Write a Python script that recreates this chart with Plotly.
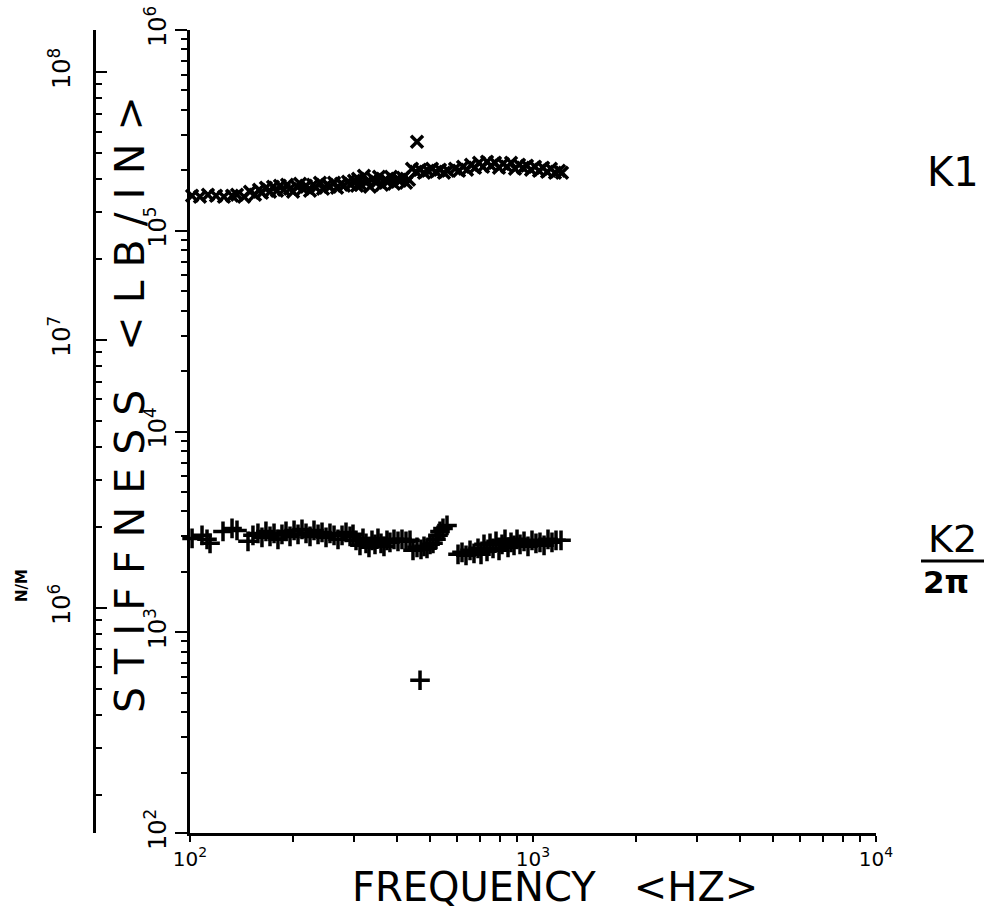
import plotly.graph_objects as go

# ---------------- data ----------------
k1_freq = [101.4, 106.9, 112.8, 119.1, 125.6, 132.6, 137.1,
           143.7, 149.6, 154.7, 158.9, 162.1, 166.5, 171.1, 174.6, 179.3, 182.9,
           187.9, 191.8, 195.7, 199.7, 205.1, 209.3, 213.5, 217.9, 223.8, 228.4,
           233.0, 239.3, 244.2, 250.9, 255.9, 263.0, 268.3, 275.6, 281.2, 288.8,
           294.7, 300.7, 306.8,
           308.9, 315.1, 321.5, 328.1, 334.8, 341.6, 348.5, 355.6, 362.8, 370.2,
           377.7, 385.4, 393.3, 401.3, 409.5, 417.8, 426.3, 435.0,
           443.8, 456.0, 468.4, 481.1, 494.2, 507.6, 521.4, 535.6, 550.2, 565.2,
           459.0,
           592.4, 608.6, 625.1, 642.1, 659.6, 677.5, 696.0, 714.9, 734.4, 754.4,
           774.9, 796.0, 817.7, 839.9, 862.8, 886.3, 910.4, 935.0, 960.5, 986.7,
           1013.5, 1041, 1070, 1099, 1128, 1159, 1191, 1215]
k1_stiff = [1.493e5, 1.476e5, 1.511e5, 1.493e5, 1.476e5, 1.493e5, 1.511e5,
            1.476e5, 1.563e5, 1.511e5, 1.600e5, 1.546e5, 1.637e5, 1.563e5, 1.656e5, 1.581e5, 1.675e5,
            1.600e5, 1.694e5, 1.618e5, 1.563e5, 1.656e5, 1.714e5, 1.618e5, 1.675e5, 1.581e5, 1.694e5,
            1.637e5, 1.734e5, 1.618e5, 1.694e5, 1.656e5, 1.734e5, 1.637e5, 1.714e5, 1.675e5, 1.754e5,
            1.694e5, 1.774e5, 1.675e5,
            1.815e5, 1.694e5, 1.878e5, 1.754e5, 1.656e5, 1.815e5, 1.734e5, 1.857e5, 1.694e5, 1.794e5,
            1.754e5, 1.857e5, 1.714e5, 1.815e5, 1.774e5, 1.836e5, 1.734e5, 1.794e5,
            2.034e5, 1.966e5, 2.011e5, 1.943e5, 1.988e5, 2.034e5, 1.966e5, 2.011e5, 1.943e5, 1.988e5,
            2.773e5,
            2.034e5, 1.988e5, 2.082e5, 2.011e5, 2.130e5, 2.058e5, 2.179e5, 2.082e5, 2.204e5, 2.106e5,
            2.179e5, 2.058e5, 2.154e5, 2.082e5, 2.179e5, 2.034e5, 2.130e5, 2.058e5, 2.106e5, 2.011e5,
            2.082e5, 1.988e5, 2.058e5, 1.966e5, 2.034e5, 1.943e5, 1.988e5, 1.943e5]

k2_freq = [101.4, 108.4, 112.1, 114.4, 124.8, 132.6, 137.1,
           147.6, 152.6, 157.8, 162.1, 166.5, 171.1, 175.8, 180.5, 185.4, 190.5,
           195.7, 201.1, 206.5, 212.1, 217.9, 223.8, 229.9, 236.2, 242.6, 249.2,
           255.9, 263.0, 270.1, 277.5, 285.0, 292.8, 298.7,
           304.8, 313.0, 319.4, 325.9, 332.5, 339.3, 346.2, 353.2, 360.4, 367.7,
           375.2, 382.8, 393.3, 404.0, 415.0, 426.3, 437.9,
           446.8, 459.0, 471.5, 481.1, 490.9, 500.9, 511.0, 521.4, 528.5, 535.6,
           546.5, 561.4,
           468.4,
           604.5, 620.9, 637.8, 655.2, 672.9, 691.3, 705.4, 719.7, 734.4, 749.3,
           764.5, 780.1, 796.0, 812.2, 828.7, 845.6, 862.8, 880.4, 898.3, 916.6,
           941.5, 966.9, 993.3, 1020, 1048, 1077, 1106, 1136, 1167, 1207]
k2_stiff = [2935, 3038, 2902, 2772, 3179, 3291, 3216,
            2836, 3038, 3108, 2969, 3179, 3003, 3108, 2902, 3073, 3179,
            3003, 3216, 3073, 3253, 3108, 3003, 3216, 3073, 3144, 2969,
            3108, 3038, 2902, 3038, 3144, 3003, 3073,
            2869, 2709, 2935, 2772, 2648, 2869, 2740, 2935, 2772, 2679,
            2869, 2804, 2902, 2836, 2902, 2836, 2869,
            2559, 2648, 2588, 2679, 2618, 2740, 2772, 2902, 3038, 3179,
            3291, 3406,
            577,
            2444, 2500, 2416, 2559, 2472, 2618, 2444, 2740, 2529, 2772,
            2618, 2836, 2559, 2740, 2902, 2648, 2804, 2709, 2902, 2740,
            2836, 2679, 2869, 2772, 2804, 2709, 2902, 2804, 2869, 2869]

x_tick_vals = [100, 1000, 10000]
x_tick_text = ["10<sup>2</sup>", "10<sup>3</sup>", "10<sup>4</sup>"]
y_tick_vals = [1e2, 1e3, 1e4, 1e5, 1e6]
y_tick_text = ["10<sup>2</sup>", "10<sup>3</sup>", "10<sup>4</sup>", "10<sup>5</sup>", "10<sup>6</sup>"]
nm_tick_vals = [1e6, 1e7, 1e8]
nm_tick_text = ["10<sup>6</sup>", "10<sup>7</sup>", "10<sup>8</sup>"]

x_title = "FREQUENCY   &lt;HZ&gt;"
y_title = "S T I F F N E S S   &lt; L B / I N &gt;"
nm_title = "N/M"

# ---------------- figure ----------------
W, H = 992, 915
FONT = "DejaVu Sans"


def px(x):
    return x / W


def py(y):
    return 1 - y / H


x_minor = [m * 10 ** k for k in (2, 3) for m in range(2, 10)]
y_minor = [m * 10 ** k for k in (2, 3, 4, 5) for m in range(2, 10)]
nm_minor = [m * 10 ** k for k in (5, 6, 7) for m in range(2, 10)]

fig = go.Figure()
fig.add_trace(go.Scatter(
    x=k1_freq, y=k1_stiff, mode="markers", name="K1", cliponaxis=False,
    marker=dict(symbol="x-thin", size=12, color="black",
                line=dict(width=3.5, color="black"))))
fig.add_trace(go.Scatter(
    x=k2_freq, y=k2_stiff, mode="markers", name="K2/2π", cliponaxis=False,
    marker=dict(symbol="cross-thin", size=14, color="black",
                line=dict(width=3.5, color="black"))))
# empty trace so that the N/M axis is bound to the plot
fig.add_trace(go.Scatter(x=[], y=[], yaxis="y2", showlegend=False))

axis_common = dict(showgrid=False, zeroline=False, showline=True, linecolor="black",
                   linewidth=2.5, tickcolor="black", tickwidth=2, automargin=False)

fig.update_layout(
    width=W, height=H,
    margin=dict(l=0, r=0, t=0, b=0),
    paper_bgcolor="white", plot_bgcolor="white",
    showlegend=False,
    xaxis=dict(type="log", range=[2, 4], domain=[px(190), px(876)],
               tickmode="array", tickvals=x_tick_vals, ticktext=x_tick_text,
               ticks="outside", ticklen=6,
               tickfont=dict(family=FONT, size=20, color="black"),
               minor=dict(tickvals=x_minor, ticks="outside", ticklen=6,
                          tickwidth=2, tickcolor="black"),
               **axis_common),
    yaxis=dict(type="log", range=[2, 6], domain=[py(833), py(30)],
               tickmode="array", tickvals=y_tick_vals, ticktext=y_tick_text,
               ticks="outside", ticklen=12, tickangle=-90,
               tickfont=dict(family=FONT, size=24, color="black"),
               minor=dict(tickvals=y_minor, ticks="outside", ticklen=6,
                          tickwidth=2, tickcolor="black"),
               **axis_common),
    yaxis2=dict(type="log", range=[5.160, 8.157], overlaying="y", anchor="free",
                position=px(94), side="left",
                tickmode="array", tickvals=nm_tick_vals, ticktext=nm_tick_text,
                ticks="inside", ticklen=11, tickangle=-90, ticklabelstandoff=14,
                tickfont=dict(family=FONT, size=24, color="black"),
                minor=dict(tickvals=nm_minor, ticks="inside", ticklen=6,
                           tickwidth=2, tickcolor="black"),
                **axis_common),
)


def label(x, y, text, size, angle=0):
    fig.add_annotation(x=px(x), y=py(y), xref="paper", yref="paper",
                       xanchor="center", yanchor="middle",
                       text=text, showarrow=False, textangle=angle,
                       font=dict(family=FONT, size=size, color="black"))


label(555, 887, x_title, 40)
label(130, 405, y_title, 41, -90)
label(22, 586, "<b>" + nm_title + "</b>", 15, -90)
label(953, 172, "K1", 40)
label(952, 539, "K2", 38)
label(946, 582, "<b>2π</b>", 31)
fig.add_shape(type="line", xref="paper", yref="paper",
              x0=px(921), x1=px(984), y0=py(561), y1=py(561),
              line=dict(color="black", width=3))

fig.write_html("out.html")
